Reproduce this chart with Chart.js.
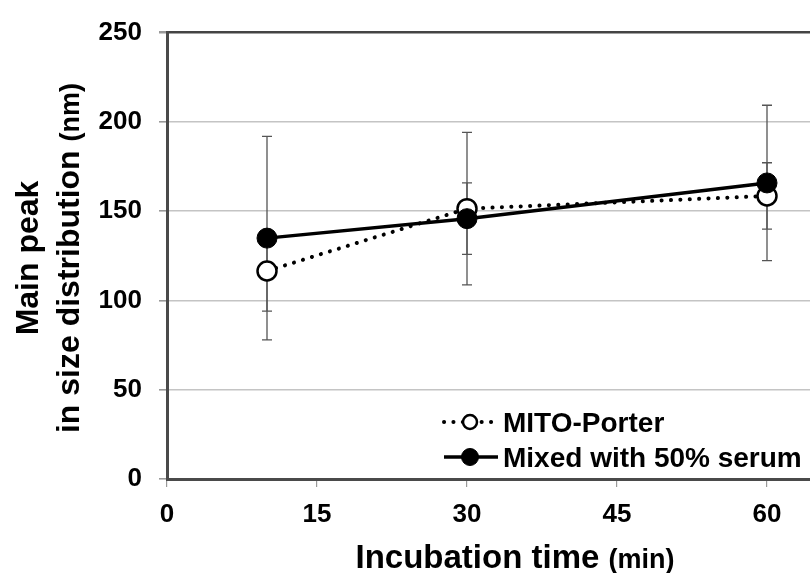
<!DOCTYPE html>
<html lang="en">
<head>
<meta charset="UTF-8">
<title>Main peak vs incubation time</title>
<script src="https://cdn.jsdelivr.net/npm/chart.js"></script>
<style>
  html, body { margin: 0; padding: 0; background: #fff; overflow: hidden; }
  canvas { display: block; }
</style>
</head>
<body>
<canvas id="chart" width="810" height="573"></canvas>
<script>
// data
const times = [10, 30, 60];
const mitoMean = [116.5, 151.4, 158.5];
const mitoErr = [22.5, 42.7, 18.6];
const serumMean = [134.9, 145.8, 165.8];
const serumErr = [57, 20, 43.5];
const xTickValues = [0, 15, 30, 45, 60];
const yTickValues = [0, 50, 100, 150, 200, 250];
const seriesNames = ['MITO-Porter', 'Mixed with 50% serum'];

const FONT = '"Liberation Sans", Arial, sans-serif';
const errs = [mitoErr, serumErr];

const points = (ys) => times.map((t, i) => ({ x: t, y: ys[i] }));

// error bars under the markers
const errorBars = {
    id: 'errorBars',
    beforeDatasetsDraw(chart) {
        const { ctx, scales: { x, y } } = chart;
        ctx.save();
        ctx.strokeStyle = '#555';
        ctx.lineWidth = 1.3;
        chart.data.datasets.forEach((ds, d) => {
            ds.data.forEach((p, i) => {
                const px = x.getPixelForValue(p.x);
                const top = y.getPixelForValue(p.y + errs[d][i]);
                const bot = y.getPixelForValue(p.y - errs[d][i]);
                ctx.beginPath();
                ctx.moveTo(px, top); ctx.lineTo(px, bot);
                ctx.moveTo(px - 5, top); ctx.lineTo(px + 5, top);
                ctx.moveTo(px - 5, bot); ctx.lineTo(px + 5, bot);
                ctx.stroke();
            });
        });
        ctx.restore();
    }
};

// axis titles with a lighter unit part, and the legend inside the plot
function mixedText(ctx, parts, cx, baseline) {
    let total = 0;
    parts.forEach(p => { ctx.font = p.font; p.w = ctx.measureText(p.text).width; total += p.w; });
    let x = cx - total / 2;
    parts.forEach(p => { ctx.font = p.font; ctx.fillText(p.text, x, baseline); x += p.w; });
}

const decorations = {
    id: 'decorations',
    afterDraw(chart) {
        const { ctx, chartArea } = chart;
        ctx.save();
        ctx.fillStyle = '#000';
        ctx.textBaseline = 'alphabetic';
        ctx.textAlign = 'left';

        mixedText(ctx, [
            { text: 'Incubation time ', font: 'bold 33px ' + FONT },
            { text: '(min)', font: 'bold 27px ' + FONT }
        ], 515, 568);

        const cy = 258;
        ctx.save();
        ctx.translate(38, cy);
        ctx.rotate(-Math.PI / 2);
        mixedText(ctx, [{ text: 'Main peak', font: 'bold 32px ' + FONT }], 0, 0);
        ctx.restore();
        ctx.save();
        ctx.translate(79, cy);
        ctx.rotate(-Math.PI / 2);
        mixedText(ctx, [
            { text: 'in size distribution ', font: 'bold 32px ' + FONT },
            { text: '(nm)', font: 'bold 27px ' + FONT }
        ], 0, 0);
        ctx.restore();

        // legend
        const lx = 442, rows = [chartArea.bottom - 57, chartArea.bottom - 22];
        const ds = chart.data.datasets;
        rows.forEach((ry, r) => {
            const s = ds[r];
            ctx.strokeStyle = '#000';
            ctx.lineWidth = s.borderWidth;
            ctx.lineCap = s.borderCapStyle || 'butt';
            ctx.setLineDash(s.borderDash || []);
            ctx.beginPath();
            ctx.moveTo(lx + 2, ry); ctx.lineTo(lx + 56, ry);
            ctx.stroke();
            ctx.setLineDash([]);
            ctx.beginPath();
            ctx.arc(lx + 28, ry, r === 0 ? 7 : 8.5, 0, Math.PI * 2);
            ctx.fillStyle = s.pointBackgroundColor;
            ctx.fill();
            ctx.lineWidth = s.pointBorderWidth;
            ctx.stroke();
            ctx.fillStyle = '#000';
            ctx.font = 'bold 28px ' + FONT;
            ctx.fillText(s.label, lx + 61, ry + 10);
        });
        ctx.restore();
    }
};

new Chart(document.getElementById('chart'), {
    type: 'line',
    data: {
        datasets: [
            {
                label: seriesNames[0],
                data: points(mitoMean),
                borderColor: '#000',
                borderWidth: 4,
                borderDash: [0.1, 9.3],
                borderCapStyle: 'round',
                pointRadius: 9.5,
                pointBackgroundColor: '#fff',
                pointBorderColor: '#000',
                pointBorderWidth: 2.5,
                tension: 0,
                order: 2
            },
            {
                label: seriesNames[1],
                data: points(serumMean),
                borderColor: '#000',
                borderWidth: 3.5,
                pointRadius: 10,
                pointBackgroundColor: '#000',
                pointBorderColor: '#000',
                pointBorderWidth: 1,
                tension: 0,
                order: 1
            }
        ]
    },
    options: {
        responsive: false,
        animation: false,
        layout: { autoPadding: false, padding: { left: 0, right: 0, top: 25, bottom: 0 } },
        plugins: { legend: { display: false }, tooltip: { enabled: false } },
        scales: {
            x: {
                type: 'linear',
                min: 0,
                max: 64.3,
                afterBuildTicks: (s) => { s.ticks = xTickValues.map(v => ({ value: v })); },
                afterFit: (s) => { s.height = 94; },
                ticks: { color: '#000', font: { family: FONT, size: 26, weight: 'bold' }, padding: 12, maxRotation: 0 },
                grid: { drawOnChartArea: false, drawTicks: true, tickLength: 8, color: '#999', lineWidth: 1.2 },
                border: { color: '#4a4a4a', width: 3 }
            },
            y: {
                min: 0,
                max: 250,
                afterBuildTicks: (s) => { s.ticks = yTickValues.map(v => ({ value: v })); },
                afterFit: (s) => { s.width = 167; },
                ticks: { color: '#000', font: { family: FONT, size: 26, weight: 'bold' }, padding: 17 },
                grid: {
                    color: (c) => c.tick && c.tick.value === 250 ? '#444' : '#c4c4c4',
                    lineWidth: (c) => c.tick && c.tick.value === 250 ? 2.5 : 1.6,
                    tickColor: '#999',
                    tickLength: 8
                },
                border: { color: '#4a4a4a', width: 3 }
            }
        }
    },
    plugins: [errorBars, decorations]
});
</script>
</body>
</html>
